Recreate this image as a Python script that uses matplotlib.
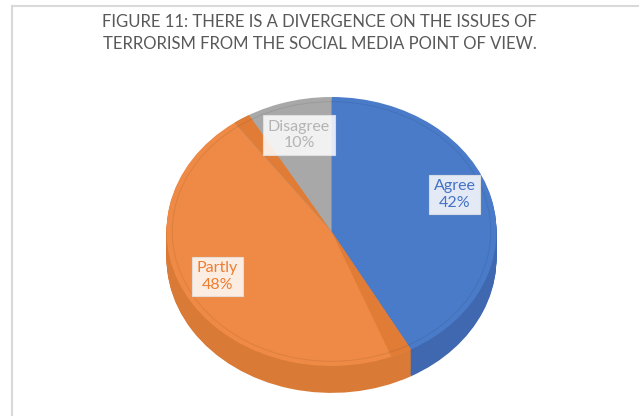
import matplotlib
matplotlib.use("Agg")
import matplotlib.pyplot as plt
from matplotlib.patches import Wedge, Ellipse
from matplotlib.lines import Line2D

labels = ["Agree", "Partly", "Disagree"]
shares = [42, 48, 10]
title = ("FIGURE 11: THERE IS A DIVERGENCE ON THE ISSUES OF\n"
         "TERRORISM FROM THE SOCIAL MEDIA POINT OF VIEW.")

top_colors = ["#4a7bc8", "#ee8a45", "#a8a8a8"]
side_colors = ["#3f68b0", "#d97a36", "#8f8f8f"]
text_colors = ["#4472c4", "#ed7d31", "#b4b4b4"]
label_pos = [(0.745, 0.275), (-0.691, -0.335), (-0.197, 0.717)]

plt.rcParams["font.family"] = ["Lato", "DejaVu Sans"]

fig = plt.figure(figsize=(6.39, 4.16), dpi=100)
# pie is squashed vertically by the axes box to get the tilted look
ax = fig.add_axes([117 / 639, 9.65 / 416, 429 / 639, 349.7 / 416])

depth = 0.2
layers = 26
for k in range(layers, 0, -1):
    ax.pie(shares, colors=side_colors, startangle=90, counterclock=False,
           center=(0, -depth * k / layers), radius=1,
           wedgeprops=dict(linewidth=0))

wedges, _ = ax.pie(shares, colors=top_colors, startangle=90, counterclock=False,
                   radius=1, wedgeprops=dict(linewidth=0))

# inner walls of the orange slice seen through the top
a_end = wedges[0].theta1
p_end = wedges[1].theta1 + 360
ax.add_patch(Wedge((0, 0), 1, a_end - 7.5, a_end, color="#e07c35", lw=0))
ax.add_patch(Wedge((0, 0), 1, p_end - 6, p_end, color="#e07c35", lw=0))

# bevel rim on the top face
ax.add_patch(Ellipse((0, 0), 1.93, 1.93, fill=False, ec="#000000",
                     alpha=0.08, lw=0.7))

for name, val, col, (x, y) in zip(labels, shares, text_colors, label_pos):
    ax.text(x, y, f"{name}\n{val}%", ha="center", va="center", color=col,
            fontsize=11.5, linespacing=1.2,
            bbox=dict(boxstyle="square,pad=0.3", fc="white", alpha=0.85,
                      ec="#e2e2e2", lw=0.8))

ax.set_aspect("auto")
ax.set_xlim(-1.3, 1.3)
ax.set_ylim(-1.3, 1.3)
ax.axis("off")

fig.text(0.5, 1 - 33 / 416, title, ha="center", va="center", fontsize=12,
         color="#595959", linespacing=1.45)

# chart area border (top and left edges)
fig.add_artist(Line2D([11.5 / 639, 1], [1 - 5.5 / 416] * 2, color="#d9d9d9",
                      lw=1.5, transform=fig.transFigure))
fig.add_artist(Line2D([11.5 / 639] * 2, [0, 1 - 5.5 / 416], color="#d9d9d9",
                      lw=1.5, transform=fig.transFigure))

fig.savefig("out.png", dpi=100)
